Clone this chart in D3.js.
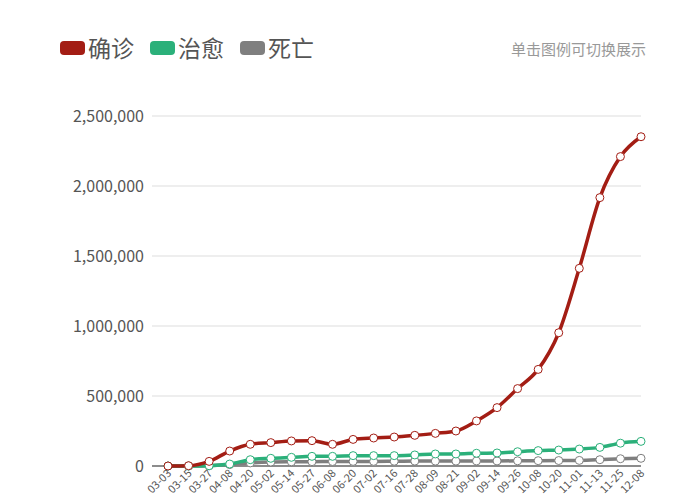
<!DOCTYPE html><html><head><meta charset="utf-8"><script src="https://cdn.jsdelivr.net/npm/d3@7"></script>
<style>body{margin:0;background:#fff;font-family:"Microsoft YaHei","Noto Sans CJK SC",sans-serif}</style></head><body><svg id="c" width="700" height="500"></svg><script>
const dates=["03-03","03-15","03-27","04-08","04-20","05-02","05-14","05-27","06-08","06-20","07-02","07-16","07-28","08-09","08-21","09-02","09-14","09-26","10-08","10-20","11-01","11-13","11-25","12-08"];
const confirmed=[0,2000,33000,107000,155000,167000,179000,181000,155000,190000,200000,207000,219000,233000,250000,322000,417000,553000,690000,952000,1412000,1917000,2210000,2352000];
const healed=[0,0,2000,14000,45000,55000,62000,69000,69000,74000,74000,74000,79000,86000,86000,91000,93000,102000,110000,114000,121000,133000,163000,176000];
const dead=[0,0,2000,10000,22000,28000,30000,31000,32000,33000,33000,34000,35000,35000,35000,36000,36000,37000,38000,39000,40000,45000,52000,55000];
const yTicks=[0,500000,1000000,1500000,2000000,2500000];
const names=["确诊","治愈","死亡"],colors=["#a31d14","#2bb07a","#7f7f7f"];
const svg=d3.select("#c");
const x=d3.scalePoint().domain(dates).range([168,641]);
const y=d3.scaleLinear().domain([0,2500000]).range([466,116]);
svg.append("g").selectAll("line").data(yTicks.slice(1)).join("line").attr("x1",152).attr("x2",641).attr("y1",d=>y(d)).attr("y2",d=>y(d)).attr("stroke","#ddd");
svg.append("g").selectAll("text").data(yTicks).join("text").attr("x",144).attr("y",d=>y(d)+6).attr("text-anchor","end").attr("font-size",16).attr("fill","#555").text(d=>d3.format(",")(d));
svg.append("line").attr("x1",152).attr("x2",641).attr("y1",y(0)).attr("y2",y(0)).attr("stroke","#666").attr("stroke-width",1.5);
svg.append("g").selectAll("text").data(dates).join("text").attr("transform",d=>`translate(${x(d)+4},${474}) rotate(-45)`).attr("text-anchor","end").attr("font-size",11).attr("fill","#555").text(d=>d);
const series=[confirmed,healed,dead];
const line=d3.line().x((d,i)=>x(dates[i])).y(d=>y(d)).curve(d3.curveMonotoneX);
[2,1,0].forEach(k=>{
 svg.append("path").attr("d",line(series[k])).attr("fill","none").attr("stroke",colors[k]).attr("stroke-width",3.5);
 svg.append("g").selectAll("circle").data(series[k]).join("circle").attr("cx",(d,i)=>x(dates[i])).attr("cy",d=>y(d)).attr("r",4).attr("fill","#fff").attr("stroke",colors[k]).attr("stroke-width",1);
});
const lg=svg.append("g");
let lx=60;
names.forEach((n,i)=>{
 lg.append("rect").attr("x",lx).attr("y",41).attr("width",25).attr("height",14).attr("rx",4).attr("fill",colors[i]);
 lg.append("text").attr("x",lx+28).attr("y",57).attr("font-size",23).attr("fill","#555").text(n);
 lx+=90;
});
svg.append("text").attr("x",646).attr("y",55).attr("text-anchor","end").attr("font-size",15).attr("fill","#999").text("单击图例可切换展示");
</script></body></html>
